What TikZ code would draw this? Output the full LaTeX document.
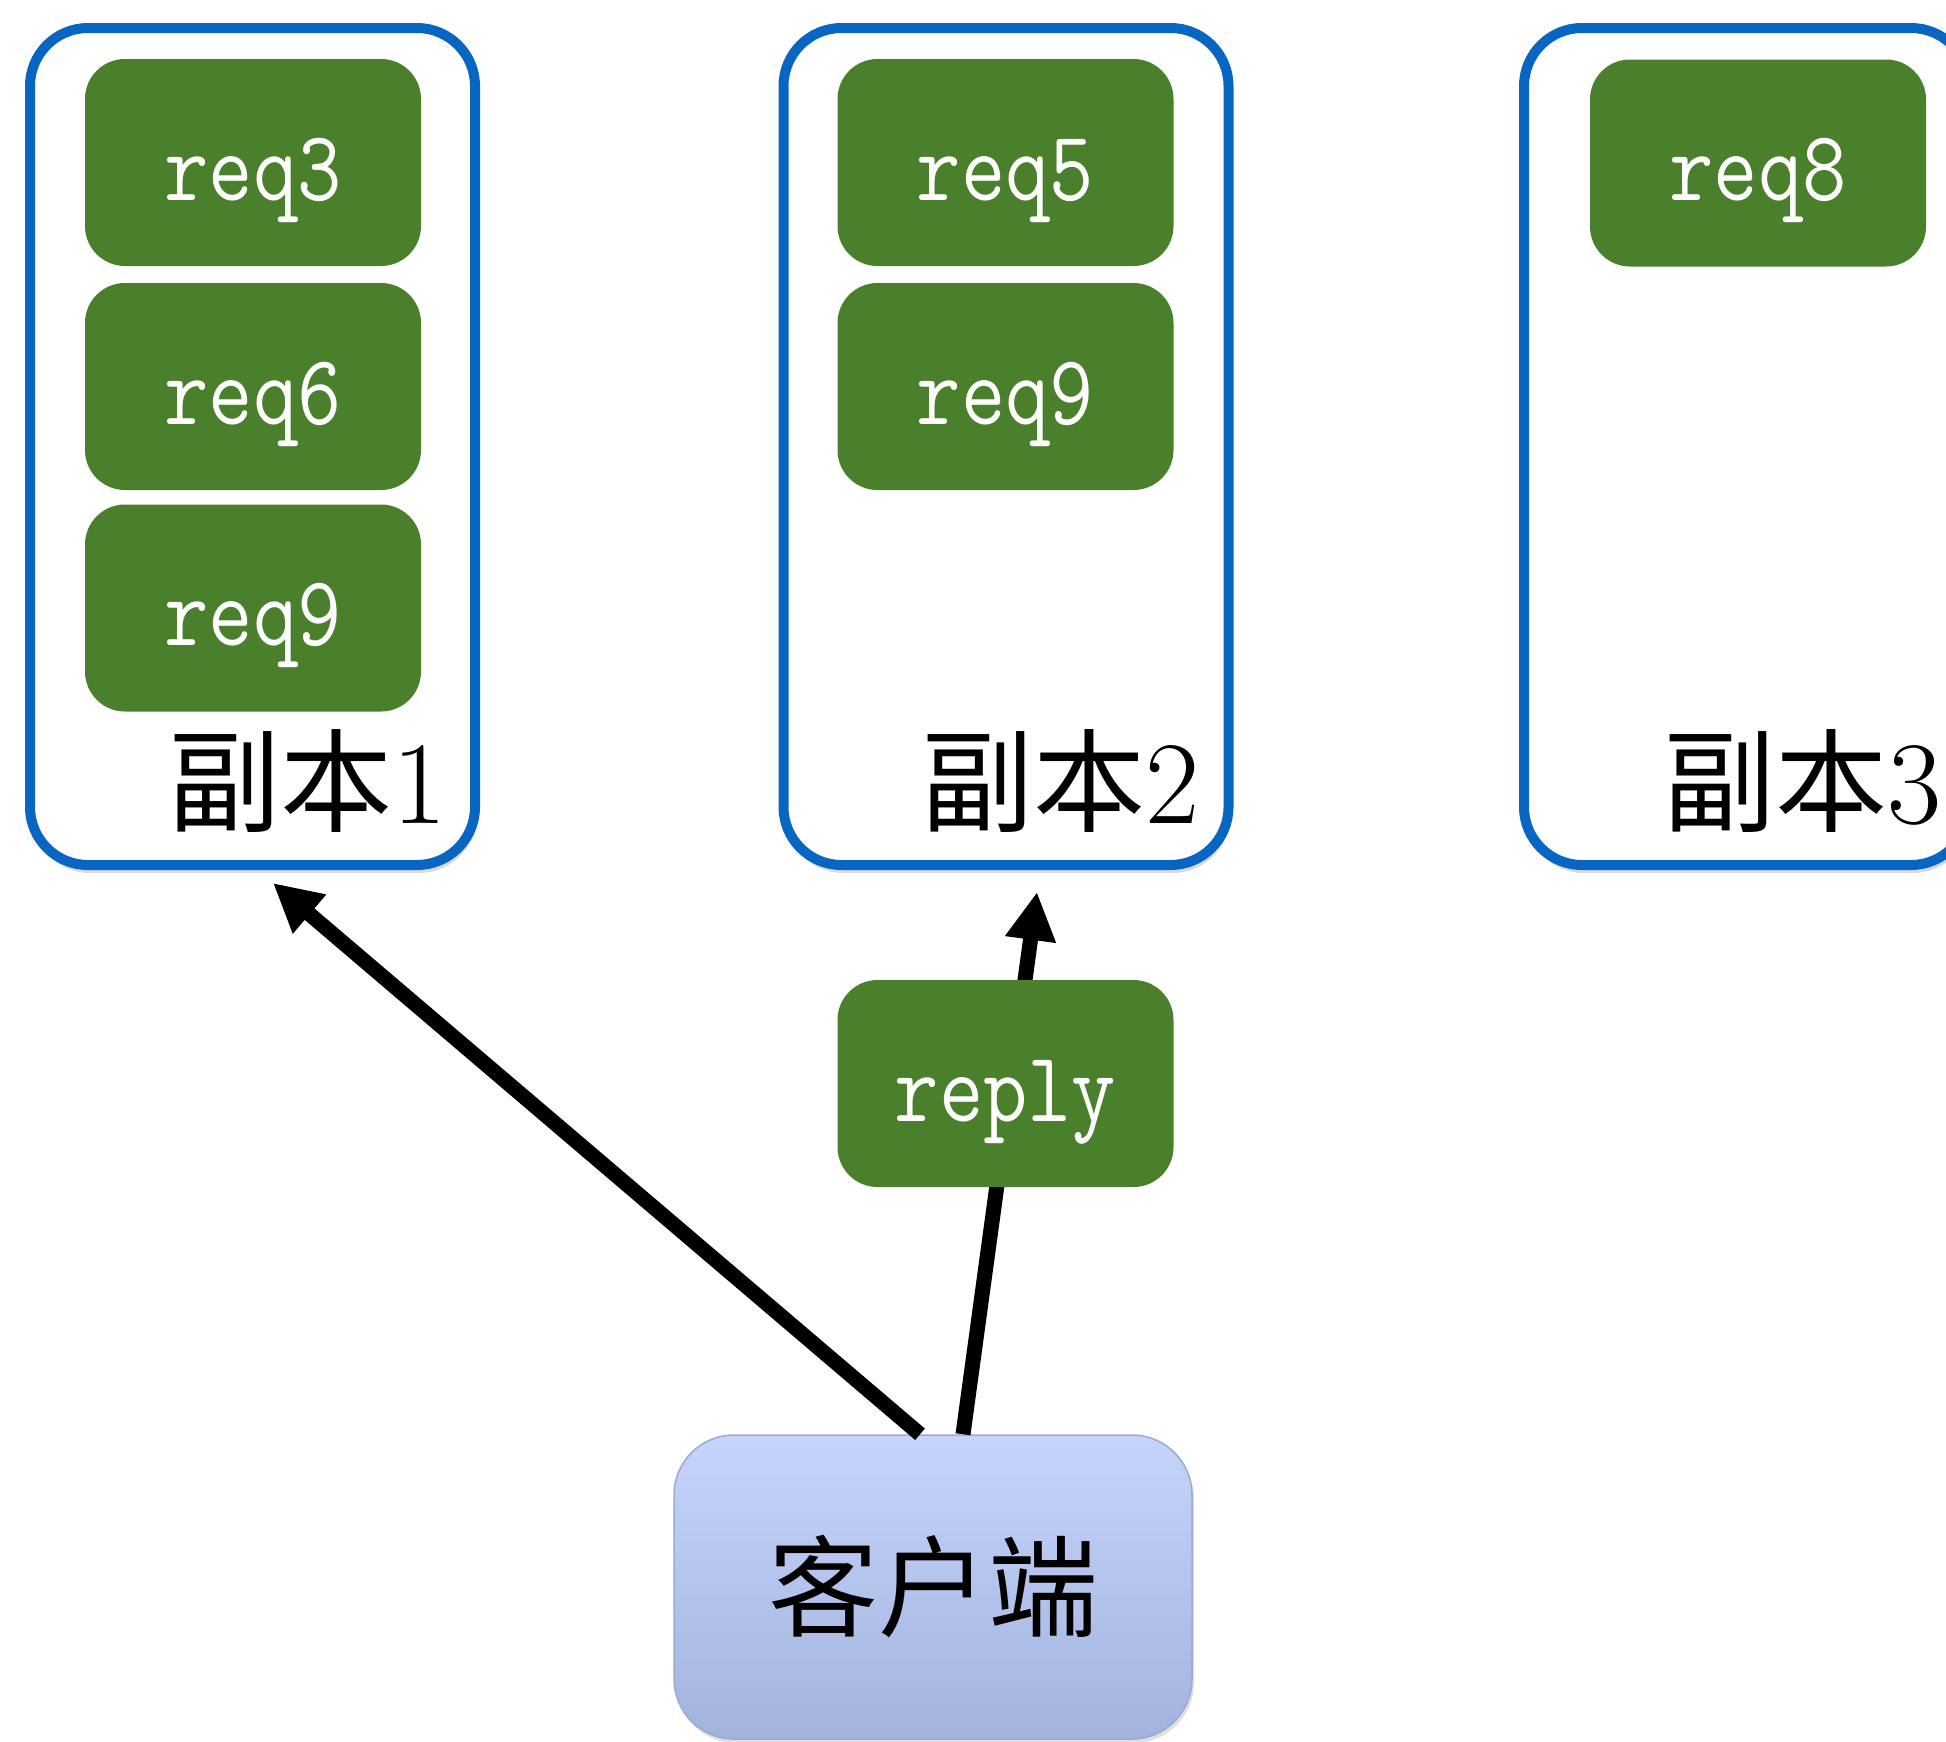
\documentclass[tikz,border=0pt]{standalone}
\usepackage{fontspec}
\usepackage{graphicx}
\newfontfamily\cjk{Noto Sans CJK SC}
\usetikzlibrary{arrows.meta,shadows}
\definecolor{rblue}{HTML}{0866C2}
\definecolor{rgreen}{HTML}{4A7F2B}
\definecolor{ctop}{HTML}{C6D4FB}
\definecolor{cbot}{HTML}{A2B3DE}
\definecolor{cline}{HTML}{9AAAD6}
\newcommand{\lbltext}[1]{{\cjk\fontsize{112}{116}\selectfont 副本}{\fontsize{118}{116}\selectfont #1}}
\begin{document}
\begin{tikzpicture}[x=1pt,y=-1pt,
  replica/.style={draw=rblue, line width=10pt, fill=white, rounded corners=58pt,
    minimum width=445pt, minimum height=837pt, inner sep=0pt,
    drop shadow={shadow xshift=2pt, shadow yshift=-8pt, opacity=0.3}},
  reqbox/.style={fill=rgreen, rounded corners=40pt, minimum width=336pt,
    minimum height=207pt, inner sep=0pt, text=white, text height=90pt,
    text depth=15pt, font={\fontsize{100}{110}\selectfont\ttfamily}},
  lbl/.style={anchor=base east, inner sep=0pt},
  clientbox/.style={draw=cline, line width=1.5pt, rounded corners=60pt,
    top color=ctop, bottom color=cbot, minimum width=518pt, minimum height=304pt,
    inner sep=0pt, font={\cjk\fontsize{110}{116}\selectfont},
    drop shadow={shadow xshift=2pt, shadow yshift=-4pt, opacity=0.25}},
  arr/.style={line width=15pt, -{Triangle[length=48pt,width=48pt]}},
]
\useasboundingbox (0,0) rectangle (1946,1741);

% replicas
\node[replica] (r1) at (252.5,446.5) {};
\node[replica] (r2) at (1006,446.5) {};
\node[replica] (r3) at (1746.5,446.5) {};

% requests
\node[reqbox] (q3) at (253,162.5) {\scalebox{0.86}[1]{req3}};
\node[reqbox] (q6) at (253,386.5) {\scalebox{0.86}[1]{req6}};
\node[reqbox] (q9a) at (253,608) {\scalebox{0.86}[1]{req9}};
\node[reqbox] (q5) at (1005.5,162.5) {\scalebox{0.86}[1]{req5}};
\node[reqbox] (q9b) at (1005.5,386.5) {\scalebox{0.86}[1]{req9}};
\node[reqbox] (q8) at (1758,163) {\scalebox{0.86}[1]{req8}};

% labels
\node[lbl] (l1) at (447,823) {\lbltext{1}};
\node[lbl] (l2) at (1200,823) {\lbltext{2}};
\node[lbl] (l3) at (1942,823) {\lbltext{3}};

% client
\node[clientbox] (client) at (933,1587) {客户端};

% arrows
\coordinate (t1) at (273,883);
\coordinate (t2) at (1037,892);
\draw[arr] ([xshift=-13pt]client.north) -- (t1);
\draw[arr] ([xshift=30pt]client.north) -- (t2);

% reply
\node[reqbox] (reply) at (1005.5,1083.5) {\scalebox{0.86}[1]{reply}};
\end{tikzpicture}
\end{document}
